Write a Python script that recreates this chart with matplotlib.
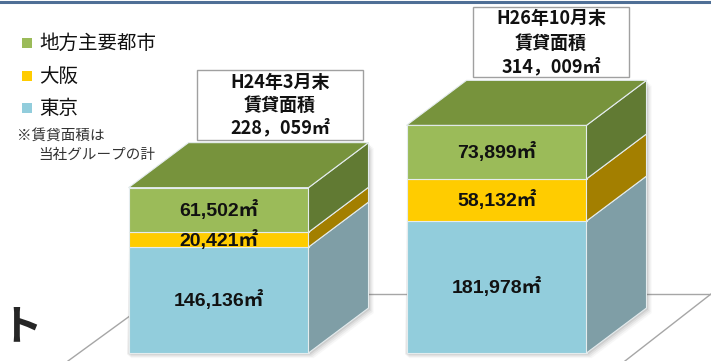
import matplotlib
matplotlib.use("Agg")
import matplotlib.pyplot as plt
from matplotlib.patches import Polygon, Rectangle
from matplotlib.transforms import Affine2D

# ---- data -------------------------------------------------------------
periods = ["H24年3月末", "H26年10月末"]
regions = ["東京", "大阪", "地方主要都市"]          # stacked bottom -> top
tokyo = [146136, 181978]
osaka = [20421, 58132]
regional = [61502, 73899]
series = [tokyo, osaka, regional]

front_colors = ["#92CDDC", "#FFCC00", "#9BBB59"]
side_colors = ["#7F9EA6", "#A37F00", "#617A33"]
top_color = "#77933C"
edge_color = "#E4ECEE"

W, H = 711, 361
fig = plt.figure(figsize=(W / 100, H / 100), dpi=100)
fig.patch.set_facecolor("white")

# pixel transform (origin top-left) for decorations
px = Affine2D().scale(1, -1).translate(0, H)

# ---- main data axes ---------------------------------------------------
ax = fig.add_axes([0, 0, 1, 1])
ax.axis("off")
k = 0.000725            # pixels per m²
base_px = 353           # bar base row
gap_px = 278            # distance between bar centres
c0_px = 218.5           # centre of first bar
ax.set_ylim(-(H - base_px) / k, base_px / k)
ax.set_xlim(-c0_px / gap_px, (W - c0_px) / gap_px)

bw = 180 / gap_px
dx = 60 / gap_px
dy = 45 / k

# floor outline of the 3-D plot area
floor_kw = dict(color="#A6A6A6", lw=1.0, transform=px, clip_on=False, zorder=0)
ax.plot([68, 160], [361, 294], **floor_kw)
ax.plot([160, 711], [294, 294], **floor_kw)
ax.plot([711, 625], [294, 361], **floor_kw)

for i in range(len(periods)):
    x0, x1 = i - bw / 2, i + bw / 2
    total = sum(s[i] for s in series)
    # soft drop shadow
    for j, a in enumerate([0.10, 0.08, 0.06, 0.04]):
        off = 1.5 + j * 1.2
        sh = [(x0 - 0.01, 0), (x1, 0), (x1 + dx, dy), (x1 + dx, total + dy),
              (x1, total), (x0, total)]
        tr = ax.transData + Affine2D().translate(off, -off)
        ax.add_patch(Polygon(sh, closed=True, facecolor="#404040", alpha=a,
                             edgecolor="none", transform=tr, zorder=1))
    bottom = 0
    for s, fc, sc in zip(series, front_colors, side_colors):
        v = s[i]
        top = bottom + v
        ax.add_patch(Rectangle((x0, bottom), bw, v, facecolor=fc,
                               edgecolor=edge_color, lw=0.8, zorder=3))
        ax.add_patch(Polygon([(x1, bottom), (x1 + dx, bottom + dy),
                              (x1 + dx, top + dy), (x1, top)], closed=True,
                             facecolor=sc, edgecolor=edge_color, lw=0.8, zorder=3))
        ax.text(i, bottom + v / 2, f"{v:,}㎡", ha="center", va="center",
                fontsize=14, fontweight="bold", color="#111111",
                family=["Liberation Sans", "Noto Sans CJK JP"], zorder=5)
        bottom = top
    ax.add_patch(Polygon([(x0, total), (x0 + dx, total + dy),
                          (x1 + dx, total + dy), (x1, total)], closed=True,
                         facecolor=top_color, edgecolor=edge_color, lw=0.8, zorder=3))

# ---- total boxes ------------------------------------------------------
boxes = [(197, 70, 363, 140, [82, 105, 128]), (473, 7, 629, 77, [19, 43, 67])]
for i, (bx0, by0, bx1, by1, ys) in enumerate(boxes):
    ax.add_patch(Rectangle((bx0, by0), bx1 - bx0, by1 - by0, facecolor="white",
                           edgecolor="#A0A0A0", lw=1.0, transform=px,
                           clip_on=False, zorder=6))
    total = sum(s[i] for s in series)
    lines = [periods[i], "賃貸面積", f"{total:,}".replace(",", "，") + "㎡"]
    for t, yy in zip(lines, ys):
        ax.text((bx0 + bx1) / 2, yy, t, transform=px, ha="center", va="center",
                fontsize=13, fontweight="bold", color="#111111",
                family=["Noto Sans CJK JP", "DejaVu Sans"], zorder=7)

# ---- legend -----------------------------------------------------------
leg_y = {"地方主要都市": 43, "大阪": 76, "東京": 108}
for name, fc in zip(regions, front_colors):
    y = leg_y[name]
    ax.add_patch(Rectangle((22, y - 5), 10, 10, facecolor=fc, edgecolor="none",
                           transform=px, clip_on=False, zorder=6))
    ax.text(39, y, name, transform=px, ha="left", va="center", fontsize=14,
            color="#111111", family=["Noto Sans CJK JP", "DejaVu Sans"], zorder=6)

note_kw = dict(transform=px, ha="left", va="center", fontsize=10.5,
               color="#333333", family=["Noto Sans CJK JP", "DejaVu Sans"], zorder=6)
ax.text(17, 136, "※賃貸面積は", **note_kw)
ax.text(38, 155, "当社グループの計", **note_kw)

# fragment of the slide heading
ax.text(0, 327, "ト", transform=px, ha="left", va="center", fontsize=30,
        fontweight="bold", color="#262626",
        family=["Noto Sans CJK JP", "DejaVu Sans"], zorder=6)

# slide header rule
ax.plot([0, W], [1.5, 1.5], color="#4F6F96", lw=2.2, transform=px,
        clip_on=False, zorder=8)

fig.savefig("out.png", dpi=100, facecolor="white")
